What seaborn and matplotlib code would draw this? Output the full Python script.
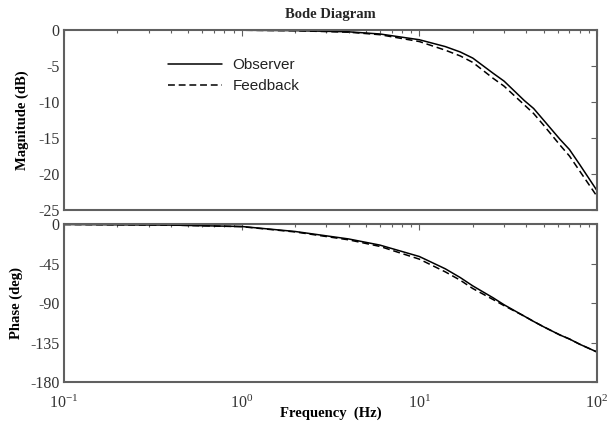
import numpy as np
import pandas as pd
import matplotlib
matplotlib.use("Agg")
import matplotlib.pyplot as plt
import seaborn as sns
from matplotlib.ticker import LogLocator, NullFormatter, FixedLocator

sns.set_theme(style="white")
plt.rcParams['font.family'] = ['Liberation Serif', 'DejaVu Serif']
plt.rcParams['mathtext.fontset'] = 'stix'

freq = [0.1, 0.4, 1, 2, 4, 6, 10, 14, 17, 20, 26, 30, 39, 44, 50, 62, 70, 80, 100]
mag_observer = [0, 0, -0.03, -0.08, -0.25, -0.55, -1.35, -2.3, -3.05, -3.9, -6.0, -7.1,
                -9.8, -10.9, -12.5, -15.2, -16.6, -18.7, -22.3]
mag_feedback = [0, 0, -0.03, -0.1, -0.3, -0.65, -1.6, -2.8, -3.6, -4.5, -6.7, -7.8,
                -10.4, -11.6, -13.2, -16.0, -17.5, -19.6, -23.1]
phase_observer = [-0.5, -1.2, -2.8, -8.5, -17, -24, -37, -51, -61, -70.5, -84, -92,
                  -105, -111, -117, -126.5, -131, -137, -145.8]
phase_feedback = [-0.5, -1.2, -3, -9, -18, -25.5, -40, -54.5, -64, -73.5, -86, -93,
                  -105, -111, -117, -126.5, -131, -137, -145.8]
series = ["Observer", "Feedback"]
mag_ticks = [0, -5, -10, -15, -20, -25]
phase_ticks = [0, -45, -90, -135, -180]

df = pd.DataFrame({
    "freq": freq * 2,
    "mag": mag_observer + mag_feedback,
    "phase": phase_observer + phase_feedback,
    "series": [series[0]] * len(freq) + [series[1]] * len(freq),
})

fig = plt.figure(figsize=(6.07, 4.30), dpi=100)
ax1 = fig.add_axes([0.1054, 0.5116, 0.8781, 0.4186])
ax2 = fig.add_axes([0.1054, 0.1116, 0.8781, 0.3674])

dashes = {"Observer": "", "Feedback": (4.5, 2.5)}
pal = {"Observer": "black", "Feedback": "black"}
sns.lineplot(data=df, x="freq", y="mag", hue="series", style="series",
             dashes=dashes, palette=pal, ax=ax1, linewidth=1.1, legend=True)
sns.lineplot(data=df, x="freq", y="phase", hue="series", style="series",
             dashes=dashes, palette=pal, ax=ax2, linewidth=1.1, legend=False)

spine_col = "#606060"
tick_col = "#333333"
for ax in (ax1, ax2):
    ax.set_xscale("log")
    ax.set_xlim(0.1, 100)
    ax.xaxis.set_major_locator(LogLocator(base=10, numticks=10))
    ax.xaxis.set_minor_locator(LogLocator(base=10, subs=np.arange(2, 10), numticks=10))
    ax.xaxis.set_minor_formatter(NullFormatter())
    for s in ax.spines.values():
        s.set_color(spine_col)
        s.set_linewidth(1.5)
        s.set_visible(True)
    ax.tick_params(which="both", direction="in", top=True, right=True,
                   color=spine_col, labelcolor=tick_col, labelsize=11.5)
    ax.tick_params(which="major", length=4, width=0.8)
    ax.tick_params(which="minor", length=2.5, width=0.8)
    ax.tick_params(axis="y", pad=3)
    ax.grid(False)

ax1.set_ylim(-25, 0)
ax1.yaxis.set_major_locator(FixedLocator(mag_ticks))
ax1.set_yticklabels([str(t) for t in mag_ticks])
ax1.tick_params(labelbottom=False)
ax1.set_xlabel("")
ax1.set_ylabel("Magnitude (dB)", fontsize=10.5, fontweight="bold", color="black", labelpad=6.5)
ax1.set_title("Bode Diagram", fontsize=10.5, fontweight="bold", pad=9)

ax2.set_ylim(-180, 0)
ax2.yaxis.set_major_locator(FixedLocator(phase_ticks))
ax2.set_yticklabels([str(t) for t in phase_ticks])
ax2.tick_params(axis="x", pad=9)
ax2.set_ylabel("Phase (deg)", fontsize=10.5, fontweight="bold", color="black", labelpad=5)
ax2.set_xlabel("Frequency  (Hz)", fontsize=10.5, fontweight="bold", color="black", labelpad=-3.5)

leg = ax1.legend(loc="upper left", bbox_to_anchor=(0.17, 0.92), frameon=False,
                 handlelength=3.5, handletextpad=0.7, labelspacing=0.45,
                 prop={"family": "Liberation Sans", "size": 11})
for t in leg.get_texts():
    t.set_color("#222222")

fig.savefig("out.png", dpi=100)
